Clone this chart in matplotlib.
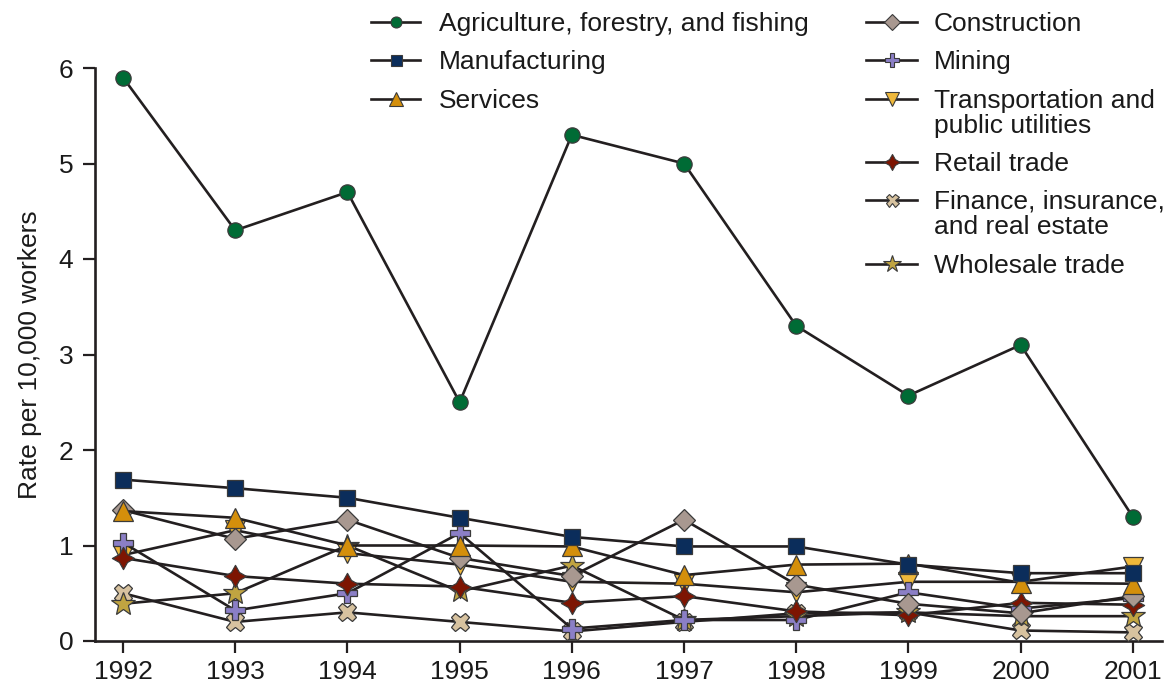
import numpy as np
import matplotlib
matplotlib.use("Agg")
import matplotlib.pyplot as plt
from matplotlib.path import Path
from matplotlib.lines import Line2D

plt.rcParams['font.family'] = ['Liberation Sans', 'DejaVu Sans']

years = [1992, 1993, 1994, 1995, 1996, 1997, 1998, 1999, 2000, 2001]
agriculture = [5.9, 4.3, 4.7, 2.5, 5.3, 5.0, 3.3, 2.57, 3.1, 1.3]
manufacturing = [1.69, 1.60, 1.50, 1.29, 1.09, 0.99, 0.99, 0.80, 0.71, 0.71]
services = [1.36, 1.29, 1.00, 1.00, 0.99, 0.69, 0.80, 0.81, 0.61, 0.60]
construction = [1.37, 1.07, 1.27, 0.87, 0.68, 1.27, 0.59, 0.39, 0.29, 0.47]
mining = [1.03, 0.32, 0.50, 1.13, 0.13, 0.22, 0.22, 0.51, 0.34, 0.45]
transportation = [0.90, 1.16, 0.92, 0.80, 0.62, 0.60, 0.51, 0.62, 0.62, 0.78]
retail = [0.87, 0.68, 0.60, 0.57, 0.40, 0.47, 0.31, 0.27, 0.40, 0.38]
finance = [0.50, 0.20, 0.30, 0.20, 0.10, 0.20, 0.29, 0.30, 0.11, 0.09]
wholesale = [0.39, 0.50, 1.00, 0.52, 0.79, 0.22, 0.26, 0.30, 0.26, 0.26]

yticks = [0, 1, 2, 3, 4, 5, 6]

r_in = 0.36
star4 = Path([(0, 1), (r_in, r_in), (1, 0), (r_in, -r_in), (0, -1),
              (-r_in, -r_in), (-1, 0), (-r_in, r_in), (0, 1)],
             [Path.MOVETO] + [Path.LINETO] * 7 + [Path.CLOSEPOLY])

series = {
    'Agriculture, forestry, and fishing': (agriculture, 'o', '#006b35', 11),
    'Manufacturing': (manufacturing, 's', '#0b2d5b', 11),
    'Services': (services, '^', '#d48f0b', 14),
    'Construction': (construction, 'D', '#a89890', 11),
    'Mining': (mining, 'P', '#8b7fc6', 14),
    'Transportation and\npublic utilities': (transportation, 'v', '#efb83a', 14),
    'Retail trade': (retail, star4, '#7d1502', 16),
    'Finance, insurance,\nand real estate': (finance, 'X', '#d7c29f', 13),
    'Wholesale trade': (wholesale, '*', '#c0a441', 18),
}

z_order = ['Finance, insurance,\nand real estate', 'Wholesale trade',
           'Transportation and\npublic utilities', 'Mining', 'Retail trade',
           'Construction', 'Services', 'Agriculture, forestry, and fishing',
           'Manufacturing']

W, H = 1166, 685
fig = plt.figure(figsize=(W / 100, H / 100), dpi=100)
ax = fig.add_axes([95 / W, 1 - 641 / H, (1162 - 95) / W, (641 - 68) / H])

line_col = '#231f20'
for i, name in enumerate(z_order):
    vals, mk, col, ms = series[name]
    ax.plot(years, vals, color=line_col, lw=1.9, marker=mk, markersize=ms,
            markerfacecolor=col, markeredgecolor='#3a3a3a', markeredgewidth=0.9,
            zorder=3 + i, clip_on=False)

ax.set_xlim(1991.75, 2001.26)
ax.set_ylim(0, 6)
ax.set_xticks(years)
ax.set_yticks(yticks)
ax.set_xticklabels([str(y) for y in years])
ax.set_yticklabels([str(t) for t in yticks])
for s in ['top', 'right']:
    ax.spines[s].set_visible(False)
for s in ['left', 'bottom']:
    ax.spines[s].set_linewidth(1.9)
    ax.spines[s].set_color(line_col)
ax.tick_params(axis='both', direction='out', length=8.5, width=1.6,
               color=line_col, labelsize=19, labelcolor='#1a1a1a')
ax.tick_params(axis='y', pad=7)
ax.tick_params(axis='x', pad=5)
ax.set_ylabel('Rate per 10,000 workers', fontsize=19, color='#1a1a1a', labelpad=12)

# Manual legend in pixel coordinates
def fx(x):
    return x / W

def fy(y):
    return 1 - y / H

col1 = ['Agriculture, forestry, and fishing', 'Manufacturing', 'Services']
rows1 = [22, 60, 99]
col2 = ['Construction', 'Mining', 'Transportation and\npublic utilities',
        'Retail trade', 'Finance, insurance,\nand real estate', 'Wholesale trade']
rows2 = [22, 60, 99, 162, 200, 264]

def legend_entry(name, hx0, hx1, tx, y):
    vals, mk, col, ms = series[name]
    fig.add_artist(Line2D([fx(hx0), fx(hx1)], [fy(y), fy(y)], transform=fig.transFigure,
                          color=line_col, lw=1.9))
    fig.add_artist(Line2D([fx((hx0 + hx1) / 2)], [fy(y)], transform=fig.transFigure,
                          marker=mk, markersize=ms * 0.72, markerfacecolor=col,
                          markeredgecolor='#3a3a3a', markeredgewidth=0.8, lw=0))
    for k, line in enumerate(name.split('\n')):
        fig.text(fx(tx), fy(y + 2 + 25.5 * k), line, fontsize=19, color='#1a1a1a',
                 va='center', ha='left')

for name, y in zip(col1, rows1):
    legend_entry(name, 371, 420, 439, y)
for name, y in zip(col2, rows2):
    legend_entry(name, 866, 917, 934, y)

fig.savefig('out.png', dpi=100)
